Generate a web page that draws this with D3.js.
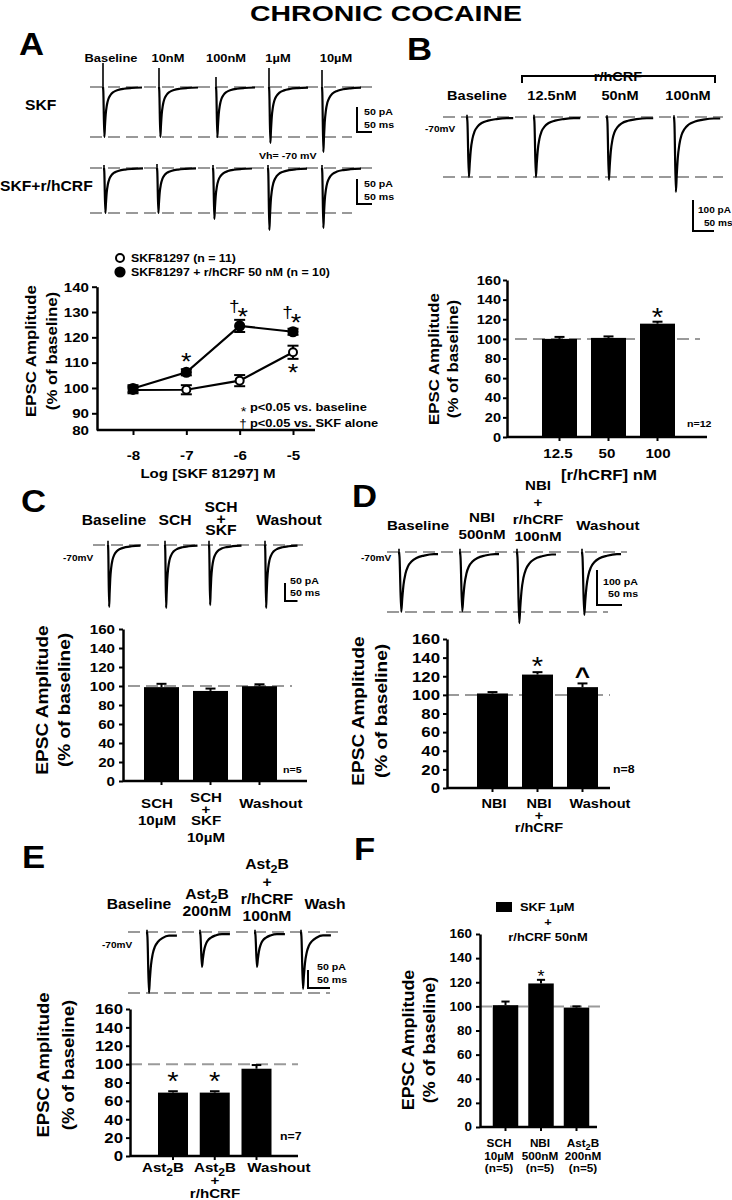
<!DOCTYPE html>
<html>
<head>
<meta charset="utf-8">
<script src="https://cdn.jsdelivr.net/npm/d3@7"></script>
<style>
body { margin: 0; background: #fff; }
svg { display: block; background: #fff; }
</style>
</head>
<body>
<svg width="732" height="1200"></svg>
<script>
// ---------- data ----------
// A: dose response, % of baseline
var logDose = [-8, -7, -6, -5];
var doseYTicks = [90, 100, 110, 120, 130, 140];
var skfMean = [99.2, 99.3, 102.9, 114.1];
var skfSem = [1.3, 1.8, 2.2, 2.6];
var skfSig = ["", "", "", "*"];
var skfCrfMean = [99.8, 106.2, 124.5, 122.2];
var skfCrfSem = [1.3, 1.2, 2.4, 1.2];
var skfCrfSig = ["", "*", "†*", "†*"];

// A: example traces (peak EPSC and stimulus artifact, pA)
var skfHeader = ["Baseline", "10nM", "100nM", "1µM", "10µM"];
var skfPeaks = [100, 100, 100, 112, 130];
var skfArts = [48, 38, 20, 38, 34];
var skfCrfPeaks = [90, 90, 102, 124, 120];
var skfCrfArts = [6, 8, 6, 6, 6];

// B
var crfHeader = ["Baseline", "12.5nM", "50nM", "100nM"];
var crfPeaks = [194, 194, 203, 242];
var crfArts = [7, 7, 6, 6];
var crfDoses = ["12.5", "50", "100"];
var crfMean = [100, 101, 115.5];
var crfSem = [2, 1.5, 2];
var crfSig = ["", "", "*"];

// C
var schHeader = [["Baseline"], ["SCH"], ["SCH", "+", "SKF"], ["Washout"]];
var schPeaks = [172, 175, 167, 175];
var schArts = [12, 12, 12, 12];
var schLabels = [["SCH", "10µM"], ["SCH", "+", "SKF", "10µM"], ["Washout"]];
var schMean = [98.8, 94.8, 99.8];
var schSem = [3.5, 2.5, 2];
var schSig = ["", "", ""];

// D
var nbiHeader = [["Baseline"], ["NBI", "500nM"], ["NBI", "+", "r/hCRF", "100nM"], ["Washout"]];
var nbiPeaks = [171, 169, 203, 180];
var nbiArts = [9, 9, 9, 9];
var nbiLabels = [["NBI"], ["NBI", "+", "r/hCRF"], ["Washout"]];
var nbiMean = [101.5, 121.8, 108.3];
var nbiSem = [1.5, 2.6, 4];
var nbiSig = ["", "*", "^"];

// E
var astHeader = [["Baseline"], ["Ast_2B", "200nM"], ["Ast_2B", "+", "r/hCRF", "100nM"], ["Wash"]];
var astPeaks = [169, 97, 97, 158];
var astArts = [6, 6, 6, 6];
var astLabels = [["Ast_2B"], ["Ast_2B", "+", "r/hCRF"], ["Washout"]];
var astMean = [69, 69, 95];
var astSem = [1.5, 1.5, 4];
var astSig = ["*", "*", ""];

// F
var sumLabels = [["SCH", "10µM", "(n=5)"], ["NBI", "500nM", "(n=5)"], ["Ast_2B", "200nM", "(n=5)"]];
var sumMean = [101, 119, 99];
var sumSem = [3, 3, 1];
var sumSig = ["", "*", ""];

// normalised EPSC waveform (ms, fraction of peak), traced from the example records
var epscShape = [[0, 0], [1, -0.08], [4.5, -1], [6.5, -0.78], [9, -0.55], [13, -0.36], [18, -0.24],
	[25, -0.16], [35, -0.1], [50, -0.06], [70, -0.035], [95, -0.02], [130, -0.01]];

// ---------- helpers ----------
var svg = d3.select("svg");
var FONT = "'Liberation Sans', Arial, Helvetica, sans-serif";
var SX = 1.12;

function txt(g, x, y, s, size, o) {
	o = o || {};
	var t = g.append("text")
		.attr("transform", "translate(" + x + "," + y + ")" + (o.rot ? " rotate(" + o.rot + ")" : "") + " scale(" + (o.sx || SX) + ",1)")
		.attr("text-anchor", o.anchor || "middle")
		.attr("font-family", FONT)
		.attr("font-size", size)
		.attr("font-weight", o.weight || "bold")
		.attr("fill", "#000");
	var m = s.match(/^(.*)_(\d)(.*)$/);
	if (m) {
		t.append("tspan").text(m[1]);
		t.append("tspan").attr("dy", size * 0.3).attr("font-size", size * 0.8).text(m[2]);
		t.append("tspan").attr("dy", -size * 0.3).text(m[3]);
	} else {
		t.text(s);
	}
	return t;
}

// significance marks, centred on (cx, cy)
function mark(g, cx, cy, s, size) {
	var k = s === "†" ? 0.3 : (s === "^" ? 0.52 : 0.56);
	txt(g, cx, cy + k * size, s, size, {weight: s === "^" ? "bold" : "normal"});
}

function multi(g, x, y, lines, size, gap, plusGap) {
	var yy = y;
	lines.forEach(function (s, i) {
		if (i > 0) yy += (s === "+" || lines[i - 1] === "+") ? plusGap : gap;
		txt(g, x, yy, s, size);
	});
}

function hline(g, x1, x2, y, color, w, dash) {
	var l = g.append("line").attr("x1", x1).attr("x2", x2).attr("y1", y).attr("y2", y)
		.attr("stroke", color).attr("stroke-width", w);
	if (dash) l.attr("stroke-dasharray", dash);
	return l;
}

function yTitle(g, xb1, xb2, cy, size) {
	txt(g, xb1, cy, "EPSC Amplitude", size, {rot: -90});
	txt(g, xb2, cy, "(% of baseline)", size, {rot: -90});
}

function traces(c, peaks, arts) {
	var g = svg.append("g");
	var amp = d3.scaleLinear().domain([0, 100]).range([0, 100 * c.pxPerPA]);
	hline(g, c.top[0], c.top[1], c.base, "#999", 2, "12,6");
	if (c.bot) hline(g, c.bot[0], c.bot[1], c.bot[2], "#999", 2, "12,6");
	var pts = epscShape.filter(function (d) { return d[0] <= c.dur; });
	pts = pts.concat([[c.dur, pts[pts.length - 1][1]]]);
	peaks.forEach(function (p, i) {
		var x0 = c.x0[i];
		var t = d3.scaleLinear().domain([0, c.dur]).range([x0, x0 + c.dur * c.pxPerMs]);
		var y = d3.scaleLinear().domain([0, -p]).range([c.base, c.base + amp(p)]);
		g.append("line").attr("x1", x0).attr("x2", x0)
			.attr("y1", c.base - amp(arts[i])).attr("y2", c.base + 2)
			.attr("stroke", "#000").attr("stroke-width", 1.6);
		g.append("path").datum(pts)
			.attr("d", d3.line().x(function (d) { return t(d[0]); }).y(function (d) { return y(d[1] * p); }).curve(d3.curveMonotoneX))
			.attr("fill", "none").attr("stroke", "#000").attr("stroke-width", 2.2).attr("stroke-linejoin", "round");
	});
	// scale bar
	var s = c.sb;
	g.append("path")
		.attr("d", "M" + s.x + "," + (s.bottom - amp(s.pa)) + "V" + s.bottom + "H" + (s.x + s.ms * c.pxPerMs))
		.attr("fill", "none").attr("stroke", "#000").attr("stroke-width", 2);
	txt(g, s.tx[0], s.ty[0], s.pa + " pA", s.font || 9.5, {anchor: "start"});
	txt(g, s.tx[1], s.ty[1], s.ms + " ms", s.font || 9.5, {anchor: "start"});
	return g;
}

function styleAxis(a, size) {
	a.attr("font-family", FONT).attr("font-size", size).attr("font-weight", "bold");
	a.select(".domain").attr("stroke", "#000").attr("stroke-width", 2.5);
	a.selectAll(".tick line").attr("stroke", "#000").attr("stroke-width", 2);
	a.selectAll(".tick text").attr("fill", "#000");
}

function barPanel(o) {
	var g = svg.append("g");
	var n = o.mean.length;
	var y = d3.scaleLinear().domain([0, 160]).range([o.y0, o.y160]);
	var p = 1 - o.bw / o.step;
	var x = d3.scaleBand().domain(d3.range(n))
		.range([o.c0 - o.step / 2, o.c0 + o.step * (n - 0.5)])
		.paddingInner(p).paddingOuter(p / 2);
	var cx = function (i) { return x(i) + x.bandwidth() / 2; };

	hline(g, o.dash[0], o.dash[1], y(100), "#9a9a9a", 2, "12,6");

	g.selectAll("rect.bar").data(o.mean).enter().append("rect")
		.attr("class", "bar")
		.attr("x", function (d, i) { return x(i); })
		.attr("width", x.bandwidth())
		.attr("y", function (d) { return y(d); })
		.attr("height", function (d) { return y(0) - y(d); })
		.attr("fill", "#000");

	var cap = Math.min(10, x.bandwidth() * 0.32);
	o.mean.forEach(function (m, i) {
		var top = y(m + o.sem[i]);
		g.append("line").attr("x1", cx(i)).attr("x2", cx(i)).attr("y1", y(m)).attr("y2", top)
			.attr("stroke", "#000").attr("stroke-width", 2);
		hline(g, cx(i) - cap / 2, cx(i) + cap / 2, top, "#000", 2);
		if (o.sig[i]) mark(g, cx(i), top + o.sigOff, o.sig[i], o.sig[i] === "^" ? o.sigFont * 0.9 : o.sigFont);
	});

	var ya = g.append("g").attr("transform", "translate(" + o.axX + ",0)")
		.call(d3.axisLeft(y).tickValues(d3.range(0, 161, 20)).tickSize(4).tickSizeOuter(0));
	styleAxis(ya, o.tickFont);
	ya.selectAll(".tick text").attr("x", null)
		.attr("transform", "translate(" + (-o.tickPad) + ",0) scale(" + SX + ",1)");

	hline(g, o.axX, o.axX2, o.y0, "#000", 2.5);
	var xa = g.append("g").attr("transform", "translate(0," + o.y0 + ")")
		.call(d3.axisBottom(x).tickSize(4).tickFormat(""));
	xa.select(".domain").remove();
	xa.selectAll(".tick line").attr("stroke", "#000").attr("stroke-width", 2);

	o.labels.forEach(function (lines, i) {
		var lift = lines.indexOf("+") >= 0 ? o.plusLift : 0;
		multi(g, o.labelX[i], o.xLabelY - lift, lines, o.xFont, o.gap, o.plusGap);
	});
	if (o.n) txt(g, o.n[1], o.n[2], o.n[0], o.n[3], {anchor: "start"});
	if (o.title) txt(g, o.title[1], o.title[2], o.title[0], o.title[3]);
	yTitle(g, o.yTitle[0], o.yTitle[1], o.yTitle[2], o.yTitle[3]);
	return g;
}

// ---------- title and panel letters ----------
txt(svg, 386, 21, "CHRONIC COCAINE", 22.5, {sx: 1}).attr("textLength", 272).attr("lengthAdjust", "spacingAndGlyphs");
[["A", 19, 55], ["B", 407, 60], ["C", 21, 512], ["D", 352, 507], ["E", 22, 868], ["F", 354, 860]].forEach(function (d) {
	txt(svg, d[1], d[2], d[0], 31, {anchor: "start"});
});

// ---------- A: traces ----------
var gA = svg.append("g");
skfHeader.forEach(function (s, i) {
	txt(gA, [111, 168, 226, 278, 336][i], 62, s, 11.5);
});
txt(gA, 25, 110, "SKF", 14, {anchor: "start"});
txt(gA, 0, 191, "SKF+r/hCRF", 14, {anchor: "start"});
txt(gA, 259, 159, "Vh= -70 mV", 9.5, {anchor: "start"});
traces({x0: [103, 159, 216, 269, 322], base: 87, pxPerPA: 0.5, pxPerMs: 0.3, dur: 130,
	top: [90, 372], bot: [90, 352, 137],
	sb: {x: 357, bottom: 132, pa: 50, ms: 50, tx: [364, 364], ty: [115, 128]}}, skfPeaks, skfArts);
traces({x0: [104, 157, 213, 268, 322], base: 168, pxPerPA: 0.5, pxPerMs: 0.3, dur: 130,
	top: [90, 372], bot: [90, 352, 213],
	sb: {x: 357, bottom: 204, pa: 50, ms: 50, tx: [364, 364], ty: [187, 200]}}, skfCrfPeaks, skfCrfArts);

// ---------- A: dose response ----------
(function () {
	var g = svg.append("g");
	var x = d3.scaleLinear().domain([-8, -5]).range([133, 293]);
	var y = d3.scaleLinear().domain([83.4, 140]).range([430, 286.7]);

	var ya = g.append("g").attr("transform", "translate(97,0)")
		.call(d3.axisLeft(y).tickValues(doseYTicks).tickSize(5).tickSizeOuter(0));
	styleAxis(ya, 13.5);
	ya.selectAll(".tick text").attr("x", null).attr("transform", "translate(-8,0) scale(" + SX + ",1)");
	txt(g, 89, y.range()[0] + 4.5, "80", 13.5, {anchor: "end"});

	hline(g, 97, 315, 430, "#000", 2.5);
	var xa = g.append("g").attr("transform", "translate(0,430)")
		.call(d3.axisBottom(x).tickValues(logDose).tickSize(5).tickFormat(function (d) { return String(d); }));
	styleAxis(xa, 13.5);
	xa.select(".domain").remove();
	xa.selectAll(".tick text").attr("y", null).attr("dy", null)
		.attr("transform", "translate(0,30) scale(" + SX + ",1)");

	txt(g, 208, 478, "Log [SKF 81297] M", 13.5);
	yTitle(g, 36, 57, 351, 15);

	var series = [
		{mean: skfMean, sem: skfSem, fill: "#fff", r: 4, sig: skfSig, dir: 1},
		{mean: skfCrfMean, sem: skfCrfSem, fill: "#000", r: 4.6, sig: skfCrfSig, dir: -1}
	];
	series.forEach(function (s) {
		g.append("path").datum(s.mean)
			.attr("d", d3.line().x(function (d, i) { return x(logDose[i]); }).y(function (d) { return y(d); }))
			.attr("fill", "none").attr("stroke", "#000").attr("stroke-width", 2.2);
		s.mean.forEach(function (m, i) {
			var px = x(logDose[i]);
			g.append("line").attr("x1", px).attr("x2", px).attr("y1", y(m - s.sem[i])).attr("y2", y(m + s.sem[i]))
				.attr("stroke", "#000").attr("stroke-width", 2);
			hline(g, px - 5.5, px + 5.5, y(m - s.sem[i]), "#000", 2);
			hline(g, px - 5.5, px + 5.5, y(m + s.sem[i]), "#000", 2);
		});
		g.selectAll(null).data(s.mean).enter().append("circle")
			.attr("cx", function (d, i) { return x(logDose[i]); })
			.attr("cy", function (d) { return y(d); })
			.attr("r", s.r).attr("fill", s.fill).attr("stroke", "#000").attr("stroke-width", 2);
		s.sig.forEach(function (t, i) {
			if (!t) return;
			var px = x(logDose[i]), py = y(s.mean[i]);
			if (t === "*") {
				mark(g, px, py + s.dir * 15.5, "*", 24);
			} else {
				mark(g, px - 5.5, py - 19, "†", 17);
				mark(g, px + 3, py - 14, "*", 24);
			}
		});
	});

	// legend
	g.append("circle").attr("cx", 120).attr("cy", 258).attr("r", 4).attr("fill", "#fff").attr("stroke", "#000").attr("stroke-width", 2);
	g.append("circle").attr("cx", 120).attr("cy", 272).attr("r", 4.6).attr("fill", "#000").attr("stroke", "#000").attr("stroke-width", 2);
	txt(g, 131, 262, "SKF81297 (n = 11)", 11, {anchor: "start"});
	txt(g, 131, 276, "SKF81297 + r/hCRF 50 nM (n = 10)", 11, {anchor: "start"});
	mark(g, 243.5, 409, "*", 13);
	txt(g, 250, 411, "p<0.05 vs. baseline", 11.5, {anchor: "start"});
	mark(g, 243, 424, "†", 12);
	txt(g, 250, 427, "p<0.05 vs. SKF alone", 11.5, {anchor: "start"});
})();

// ---------- B ----------
(function () {
	var g = svg.append("g");
	crfHeader.forEach(function (s, i) {
		txt(g, [477, 552, 620, 688][i], 100, s, 13);
	});
	g.append("path").attr("d", "M522,83V76H715V83").attr("fill", "none").attr("stroke", "#000").attr("stroke-width", 2);
	var lab = txt(g, 618, 80.5, "r/hCRF", 13);
	var bb = lab.node().getBBox();
	g.insert("rect", "text").attr("x", 618 - bb.width * SX / 2 - 4).attr("y", 68).attr("width", bb.width * SX + 8).attr("height", 16).attr("fill", "#fff");
	txt(g, 425, 132, "-70mV", 9, {anchor: "start"});
})();
traces({x0: [467, 534, 607, 674], base: 117, pxPerPA: 0.31, pxPerMs: 0.42, dur: 110,
	top: [443, 723], bot: [443, 723, 177],
	sb: {x: 693, bottom: 231, pa: 100, ms: 50, tx: [698, 704], ty: [213, 226], font: 9}}, crfPeaks, crfArts);
barPanel({mean: crfMean, sem: crfSem, sig: crfSig, labels: crfDoses.map(function (d) { return [d]; }),
	labelX: [558, 607, 658],
	axX: 507, axX2: 707, y0: 437, y160: 280, c0: 559.5, step: 49, bw: 35,
	tickFont: 13, tickPad: 6, xFont: 13.5, xLabelY: 458, gap: 17, plusGap: 12, plusLift: 0,
	dash: [515, 700], n: ["n=12", 687, 427, 9.5], title: ["[r/hCRF] nM", 609, 480, 15],
	yTitle: [439, 458, 359, 15], sigOff: -10, sigFont: 26});

// ---------- C ----------
(function () {
	var g = svg.append("g");
	var xs = [114, 175, 221, 289];
	schHeader.forEach(function (lines, i) {
		multi(g, xs[i], lines.length > 1 ? 512 : 525, lines, 14, 17, 11.5);
	});
	txt(g, 63, 561, "-70mV", 9, {anchor: "start"});
})();
traces({x0: [108, 165, 209, 265], base: 545, pxPerPA: 0.36, pxPerMs: 0.25, dur: 130,
	top: [93, 307], bot: null,
	sb: {x: 285, bottom: 601, pa: 50, ms: 50, tx: [290, 290], ty: [584, 596]}}, schPeaks, schArts);
barPanel({mean: schMean, sem: schSem, sig: schSig, labels: schLabels,
	labelX: [157, 206, 271],
	axX: 123, axX2: 307, y0: 781, y160: 629, c0: 161.5, step: 49, bw: 35,
	tickFont: 13.5, tickPad: 8, xFont: 13.5, xLabelY: 808, gap: 17, plusGap: 11.5, plusLift: 6,
	dash: [128, 292], n: ["n=5", 283, 773, 9.5], title: null,
	yTitle: [48, 70, 700, 17], sigOff: -10, sigFont: 26});

// ---------- D ----------
(function () {
	var g = svg.append("g");
	var xs = [418, 482, 538, 608];
	var y1 = [530, 522, 490, 530];
	nbiHeader.forEach(function (lines, i) {
		multi(g, xs[i], y1[i], lines, 13.5, 17, 17);
	});
	txt(g, 361, 561, "-70mV", 9, {anchor: "start"});
})();
traces({x0: [399, 460, 517, 582], base: 552, pxPerPA: 0.35, pxPerMs: 0.5, dur: 78,
	top: [387, 627], bot: [387, 608, 612],
	sb: {x: 597, bottom: 605, pa: 100, ms: 50, tx: [603, 608], ty: [585, 597]}}, nbiPeaks, nbiArts);
barPanel({mean: nbiMean, sem: nbiSem, sig: nbiSig, labels: nbiLabels,
	labelX: [494, 539, 600],
	axX: 447, axX2: 610, y0: 788, y160: 639, c0: 492.5, step: 45, bw: 31,
	tickFont: 15, tickPad: 7, xFont: 13, xLabelY: 808, gap: 17, plusGap: 12, plusLift: 0,
	dash: [447, 610], n: ["n=8", 613, 773, 11], title: null,
	yTitle: [364, 387, 711, 17], sigOff: -12, sigFont: 26});

// ---------- E ----------
(function () {
	var g = svg.append("g");
	var xs = [139, 207, 267, 325];
	var y1 = [909, 899, 869, 909];
	astHeader.forEach(function (lines, i) {
		multi(g, xs[i], y1[i], lines, 14, 17, 17.5);
	});
	txt(g, 102, 948, "-70mV", 9, {anchor: "start"});
})();
traces({x0: [147, 200, 255, 301], base: 932, pxPerPA: 0.36, pxPerMs: 0.44, dur: 68,
	top: [128, 338], bot: [128, 330, 993],
	sb: {x: 308, bottom: 988, pa: 50, ms: 50, tx: [317, 317], ty: [970, 983]}}, astPeaks, astArts);
barPanel({mean: astMean, sem: astSem, sig: astSig, labels: astLabels,
	labelX: [163, 215, 279],
	axX: 130, axX2: 298, y0: 1156, y160: 1009, c0: 173, step: 41.75, bw: 30,
	tickFont: 15, tickPad: 7, xFont: 13.5, xLabelY: 1172, gap: 17, plusGap: 13, plusLift: 0,
	dash: [130, 298], n: ["n=7", 280, 1140, 11], title: null,
	yTitle: [49, 74, 1065, 16.5], sigOff: -16, sigFont: 26});

// ---------- F ----------
(function () {
	var g = svg.append("g");
	g.append("rect").attr("x", 496).attr("y", 902).attr("width", 16).attr("height", 10).attr("fill", "#000");
	txt(g, 520, 911, "SKF 1µM", 11.5, {anchor: "start"});
	txt(g, 548, 926, "+", 11.5);
	txt(g, 548, 941, "r/hCRF 50nM", 11.5);
})();
barPanel({mean: sumMean, sem: sumSem, sig: sumSig, labels: sumLabels,
	labelX: [499, 540, 583],
	axX: 480, axX2: 597, y0: 1127, y160: 934, c0: 505.5, step: 35.5, bw: 25.5,
	tickFont: 12, tickPad: 8, xFont: 10.5, xLabelY: 1147, gap: 12.5, plusGap: 12.5, plusLift: 0,
	dash: [480, 603], n: null, title: null,
	yTitle: [414, 435, 1040, 16], sigOff: -7, sigFont: 16});
</script>
</body>
</html>
